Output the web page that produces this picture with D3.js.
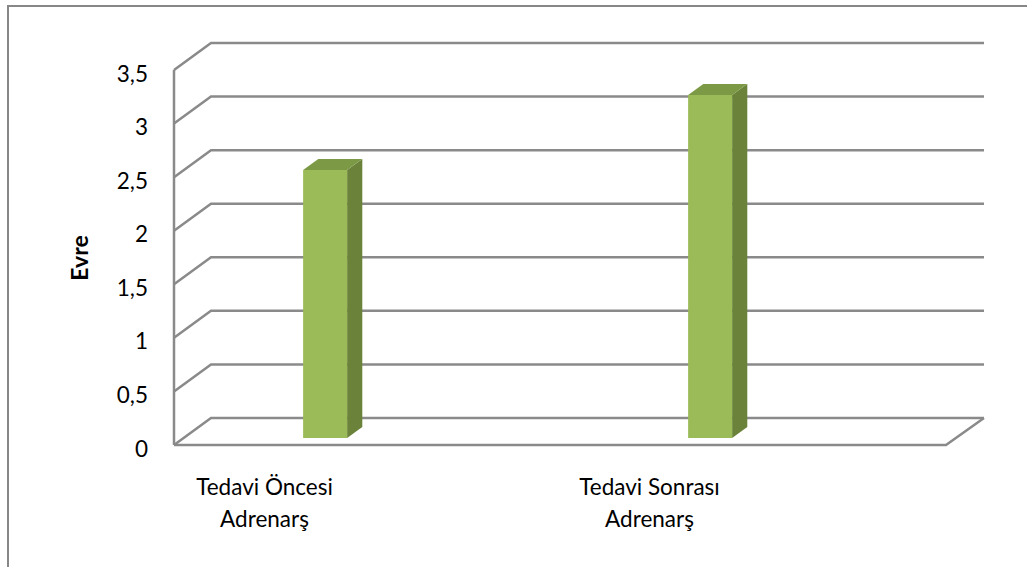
<!DOCTYPE html>
<html>
<head>
<meta charset="utf-8">
<script src="https://cdn.jsdelivr.net/npm/d3@7"></script>
<style>
  html, body { margin: 0; padding: 0; background: #fff; }
  svg { display: block; }
  text { font-family: Lato, "Open Sans", "Noto Sans", sans-serif; fill: #000; }
</style>
</head>
<body>
<script>
// Chart data
const categories = ["Tedavi Öncesi\nAdrenarş", "Tedavi Sonrası\nAdrenarş"];
const values = [2.5, 3.2];
const yTicks = [0, 0.5, 1, 1.5, 2, 2.5, 3, 3.5];
const yTitle = "Evre";

const W = 1027, H = 567;
const svg = d3.select("body").append("svg").attr("width", W).attr("height", H);

// Outer chart frame
svg.append("rect")
  .attr("x", 8).attr("y", 6).attr("width", W + 20).attr("height", H + 20)
  .attr("fill", "#fff").attr("stroke", "#878787").attr("stroke-width", 2);

// Oblique 3D projection: front plane coordinates + depth fraction
const DX = 37, DY = -27;
const y = d3.scaleLinear().domain([0, 3.5]).range([445, 70]);
const x = d3.scaleBand().domain(categories).range([123, 893]);
const floorX = [174, 947];
const proj = (px, v, d) => [px + d * DX, y(v) + d * DY];

const line = d3.line();
const gridColor = "#8a8a8a";

// Walls: side-wall diagonals and back-wall gridlines
const grid = svg.append("g").attr("fill", "none").attr("stroke", gridColor).attr("stroke-width", 2.5);
yTicks.forEach(t => {
  grid.append("path").attr("d", line([
    proj(floorX[0], t, 0), proj(floorX[0], t, 1), proj(floorX[1], t, 1)
  ]));
});
// Floor front edge and right edge
grid.append("path").attr("d", line([
  proj(floorX[0], 0, 0), proj(floorX[1] - 1, 0, 0), proj(floorX[1], 0, 1)
]));
// Vertical axis line
grid.append("path").attr("d", line([
  proj(floorX[0], 0, 0), proj(floorX[0], 3.5, 0)
]));

// Tick labels
const fmt = d3.formatLocale({ decimal: ",", thousands: ".", grouping: [3], currency: ["", ""] }).format("~g");
svg.append("g").selectAll("text").data(yTicks).join("text")
  .attr("x", 148)
  .attr("y", d => y(d) + 3)
  .attr("text-anchor", "end")
  .attr("dominant-baseline", "central")
  .attr("font-size", 22.5)
  .text(d => fmt(d));

// Axis title
svg.append("text")
  .attr("transform", "translate(79,258) rotate(-90)")
  .attr("text-anchor", "middle")
  .attr("dominant-baseline", "central")
  .attr("font-size", 23)
  .attr("font-weight", "bold")
  .text(yTitle);

// Columns
const barW = 44, d1 = 0.26, d2 = 0.67;
const bars = svg.append("g");
categories.forEach((c, i) => {
  const v = values[i];
  const cx = x(c) + x.bandwidth() / 2;
  const x0 = cx - barW / 2, x1 = cx + barW / 2;
  const g = bars.append("g");
  // side face
  g.append("path").attr("fill", "#6a8239").attr("d", line([
    proj(x1, 0, d1), proj(x1, v, d1), proj(x1, v, d2), proj(x1, 0, d2)
  ]) + "Z");
  // top face
  g.append("path").attr("fill", "#7c9a45").attr("d", line([
    proj(x0, v, d1), proj(x1, v, d1), proj(x1, v, d2), proj(x0, v, d2)
  ]) + "Z");
  // front face
  g.append("path").attr("fill", "#9bbb59").attr("d", line([
    proj(x0, 0, d1), proj(x0, v, d1), proj(x1, v, d1), proj(x1, 0, d1)
  ]) + "Z");
});

// Category labels
const labels = svg.append("g");
categories.forEach(c => {
  const cx = x(c) + x.bandwidth() / 2 - 51;
  const t = labels.append("text").attr("text-anchor", "middle").attr("font-size", 22.5);
  c.split("\n").forEach((ln, j) => {
    t.append("tspan").attr("x", cx).attr("y", 495 + j * 32).text(ln);
  });
});
</script>
</body>
</html>
